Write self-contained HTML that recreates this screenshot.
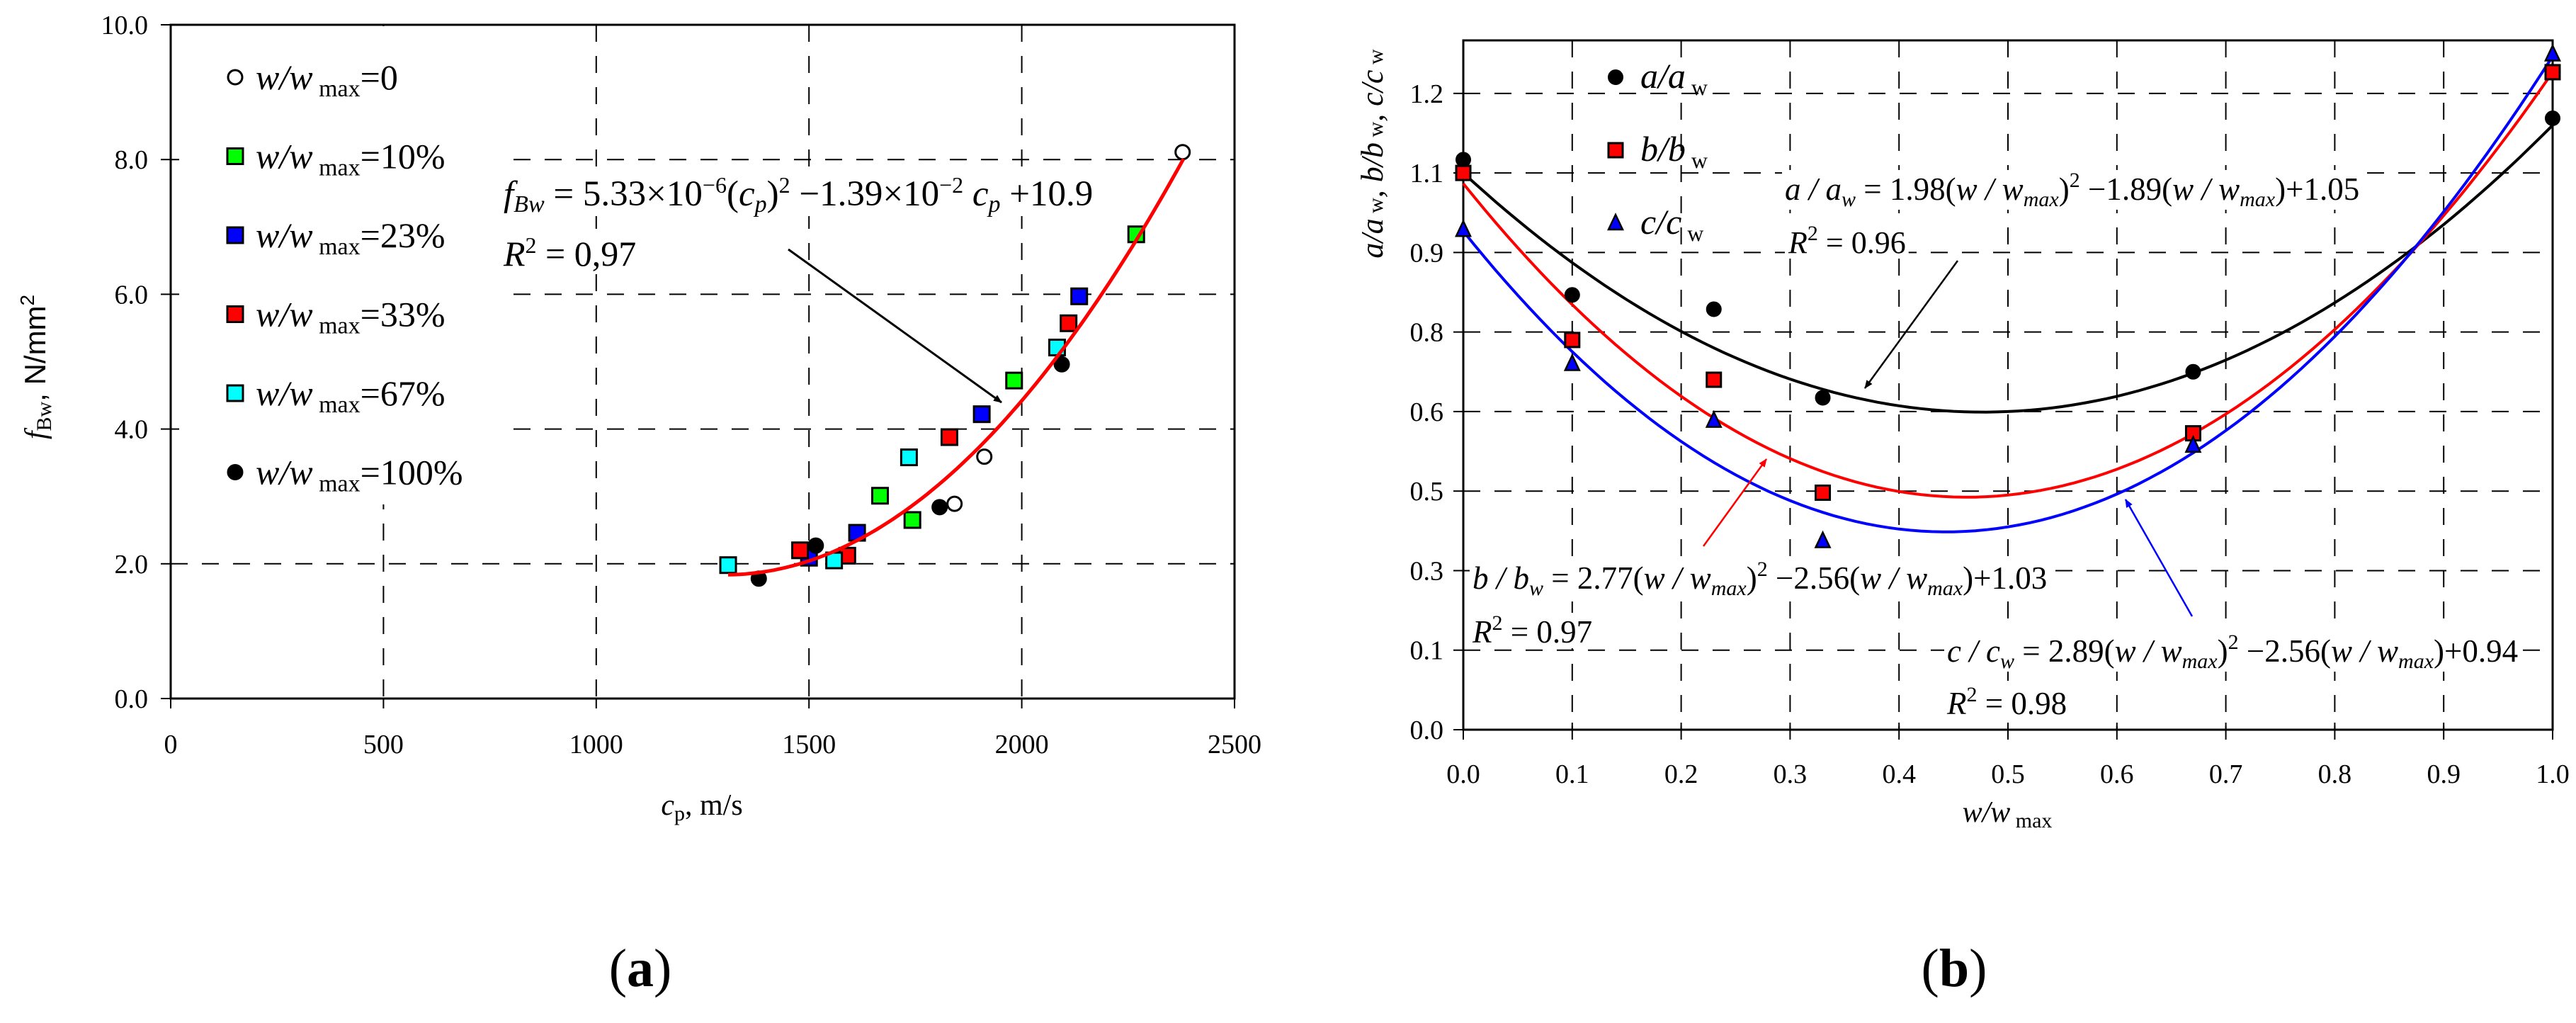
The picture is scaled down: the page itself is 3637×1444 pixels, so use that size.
<!DOCTYPE html>
<html><head><meta charset="utf-8"><style>
html,body{margin:0;padding:0;background:#fff;}
svg{display:block;font-family:"Liberation Serif",serif;}
</style></head><body>
<svg id="root" width="3637" height="1444" viewBox="0 0 3637 1444" xmlns="http://www.w3.org/2000/svg">
<defs>
<marker id="ah" markerWidth="12" markerHeight="10" refX="11" refY="5" orient="auto" markerUnits="userSpaceOnUse"><path d="M0,0 L12,5 L0,10 z" fill="#000"/></marker>
<marker id="ahr" markerWidth="12" markerHeight="10" refX="11" refY="5" orient="auto" markerUnits="userSpaceOnUse"><path d="M0,0 L12,5 L0,10 z" fill="#f00"/></marker>
<marker id="ahb" markerWidth="12" markerHeight="10" refX="11" refY="5" orient="auto" markerUnits="userSpaceOnUse"><path d="M0,0 L12,5 L0,10 z" fill="#00f"/></marker>
</defs>
<g id="chartA"></g>
<g id="chartB"></g>

<!-- chart A static text -->
<text x="991" y="1150" font-size="42" text-anchor="middle"><tspan font-style="italic">c</tspan><tspan font-size="30" dy="8">p</tspan><tspan dy="-8">, m/s</tspan></text>
<text transform="translate(64,518) rotate(-90)" font-size="42" text-anchor="middle"><tspan font-style="italic">f</tspan><tspan font-size="30" dy="8">Bw</tspan><tspan dy="-8" font-family="Liberation Sans">, N/mm</tspan><tspan font-size="28" dy="-16" font-family="Liberation Sans">2</tspan></text>
<text class="masked" x="711" y="290" font-size="51"><tspan font-style="italic">f</tspan><tspan font-style="italic" font-size="34" dy="9">Bw</tspan><tspan dy="-9"> = 5.33×10</tspan><tspan font-size="32" dy="-18">−6</tspan><tspan dy="18">(</tspan><tspan font-style="italic">c</tspan><tspan font-style="italic" font-size="34" dy="9">p</tspan><tspan dy="-9">)</tspan><tspan font-size="32" dy="-18">2</tspan><tspan dy="18"> −1.39×10</tspan><tspan font-size="32" dy="-18">−2</tspan><tspan dy="18" font-style="italic"> c</tspan><tspan font-style="italic" font-size="34" dy="9">p</tspan><tspan dy="-9"> +10.9</tspan></text>
<text class="masked" x="711" y="375" font-size="50"><tspan font-style="italic">R</tspan><tspan font-size="32" dy="-18">2</tspan><tspan dy="18"> = 0,97</tspan></text>
<line x1="1113" y1="352" x2="1414" y2="568" stroke="#000" stroke-width="3" marker-end="url(#ah)"/>
<text x="904" y="1392" font-size="76" text-anchor="middle">(<tspan font-weight="bold">a</tspan>)</text>

<!-- chart B static text -->
<text x="2834" y="1160" font-size="42" text-anchor="middle"><tspan font-style="italic">w/w</tspan><tspan font-size="30" dy="8"> max</tspan></text>
<text transform="translate(1952,217) rotate(-90)" font-size="44" text-anchor="middle" font-style="italic">a/a<tspan font-size="30" font-style="normal"> w</tspan>, b/b<tspan font-size="30" font-style="normal"> w</tspan>, c/c<tspan font-size="30" font-style="normal"> w</tspan></text>
<text class="masked" x="2520" y="282" font-size="45"><tspan font-style="italic">a / a</tspan><tspan font-style="italic" font-size="30" dy="9">w</tspan><tspan dy="-9"> = 1.98(</tspan><tspan font-style="italic">w / w</tspan><tspan font-style="italic" font-size="30" dy="9">max</tspan><tspan dy="-9">)</tspan><tspan font-size="30" dy="-18">2</tspan><tspan dy="18"> −1.89(</tspan><tspan font-style="italic">w / w</tspan><tspan font-style="italic" font-size="30" dy="9">max</tspan><tspan dy="-9">)+1.05</tspan></text>
<text class="masked" x="2525" y="357" font-size="44"><tspan font-style="italic">R</tspan><tspan font-size="30" dy="-18">2</tspan><tspan dy="18"> = 0.96</tspan></text>
<text class="masked" x="2079" y="831" font-size="45"><tspan font-style="italic">b / b</tspan><tspan font-style="italic" font-size="30" dy="9">w</tspan><tspan dy="-9"> = 2.77(</tspan><tspan font-style="italic">w / w</tspan><tspan font-style="italic" font-size="30" dy="9">max</tspan><tspan dy="-9">)</tspan><tspan font-size="30" dy="-18">2</tspan><tspan dy="18"> −2.56(</tspan><tspan font-style="italic">w / w</tspan><tspan font-style="italic" font-size="30" dy="9">max</tspan><tspan dy="-9">)+1.03</tspan></text>
<text class="masked" x="2079" y="907" font-size="45"><tspan font-style="italic">R</tspan><tspan font-size="30" dy="-18">2</tspan><tspan dy="18"> = 0.97</tspan></text>
<text class="masked" x="2749" y="934" font-size="45"><tspan font-style="italic">c / c</tspan><tspan font-style="italic" font-size="30" dy="9">w</tspan><tspan dy="-9"> = 2.89(</tspan><tspan font-style="italic">w / w</tspan><tspan font-style="italic" font-size="30" dy="9">max</tspan><tspan dy="-9">)</tspan><tspan font-size="30" dy="-18">2</tspan><tspan dy="18"> −2.56(</tspan><tspan font-style="italic">w / w</tspan><tspan font-style="italic" font-size="30" dy="9">max</tspan><tspan dy="-9">)+0.94</tspan></text>
<text class="masked" x="2749" y="1008" font-size="45"><tspan font-style="italic">R</tspan><tspan font-size="30" dy="-18">2</tspan><tspan dy="18"> = 0.98</tspan></text>
<line x1="2764" y1="368" x2="2633" y2="548" stroke="#000" stroke-width="2.5" marker-end="url(#ah)"/>
<line x1="2405" y1="771" x2="2494" y2="648" stroke="#f00" stroke-width="2.5" marker-end="url(#ahr)"/>
<line x1="3095" y1="870" x2="3001" y2="705" stroke="#00f" stroke-width="2.5" marker-end="url(#ahb)"/>
<text x="2759" y="1392" font-size="76" text-anchor="middle">(<tspan font-weight="bold">b</tspan>)</text>
</svg>
<script>
// ---------- Chart A data ----------
const aXTicks = [0, 500, 1000, 1500, 2000, 2500];
const aYTicks = [0, 2, 4, 6, 8, 10];
const aSeriesNames = ["0", "10%", "23%", "33%", "67%", "100%"];
const aOpenX = [2378, 1912, 1842];
const aOpenY = [8.11, 3.59, 2.89];
const aGreenX = [2269, 1982, 1667, 1743];
const aGreenY = [6.89, 4.72, 3.01, 2.65];
const aBlueX = [2135, 1906, 1613, 1500];
const aBlueY = [5.97, 4.22, 2.46, 2.09];
const aRedX = [2110, 1830, 1590, 1479];
const aRedY = [5.57, 3.88, 2.12, 2.20];
const aCyanX = [2083, 1735, 1559, 1310];
const aCyanY = [5.21, 3.58, 2.05, 1.98];
const aBlackX = [2094, 1807, 1516, 1382];
const aBlackY = [4.96, 2.84, 2.27, 1.78];
const aFitCoef = [5.33e-6, -1.39e-2, 10.9];
const aFitRange = [1310, 2380];

// ---------- Chart B data ----------
const bXTicks = [0, 0.1, 0.2, 0.3, 0.4, 0.5, 0.6, 0.7, 0.8, 0.9, 1.0];
const bYTicks = [0, 0.15, 0.3, 0.45, 0.6, 0.75, 0.9, 1.05, 1.2];
const bX = [0, 0.1, 0.23, 0.33, 0.67, 1.0];
const bA = [1.075, 0.82, 0.793, 0.626, 0.675, 1.153];
const bB = [1.05, 0.735, 0.66, 0.447, 0.559, 1.24];
const bC = [0.943, 0.69, 0.583, 0.356, 0.536, 1.274];
const bFitA = [1.98, -1.89, 1.05];
const bFitB = [2.77, -2.56, 1.03];
const bFitC = [2.89, -2.56, 0.94];

const NS = "http://www.w3.org/2000/svg";
function mk(parent, tag, attrs) {
  const e = document.createElementNS(NS, tag);
  for (const k in attrs) e.setAttribute(k, attrs[k]);
  parent.appendChild(e);
  return e;
}
function ts(parent, txt, attrs) {
  const t = mk(parent, 'tspan', attrs || {});
  t.textContent = txt;
  return t;
}
const DASH = '24,20';

// ===== Chart A =====
(function () {
  const g = document.getElementById('chartA');
  const L = 241, R = 1743, T = 35, B = 986;
  const xs = v => L + (v - 0) / 2500 * (R - L);
  const ys = v => B - v / 10 * (B - T);
  aXTicks.forEach(t => {
    if (t > 0 && t < 2500) {
      const l = mk(g, 'line', {x1: xs(t), x2: xs(t), y1: T, y2: B, stroke: '#000', 'stroke-width': 2, 'stroke-dasharray': DASH});
      
      
    }
    const tk = mk(g, 'line', {x1: xs(t), x2: xs(t), y1: B, y2: B + 14, stroke: '#000', 'stroke-width': 2});
    
    
    const tx = mk(g, 'text', {x: xs(t), y: 1063, 'font-size': 38, 'text-anchor': 'middle'});
    tx.textContent = String(t);
    
    
  });
  aYTicks.forEach(t => {
    if (t > 0 && t < 10) {
      const l = mk(g, 'line', {x1: L, x2: R, y1: ys(t), y2: ys(t), stroke: '#000', 'stroke-width': 2, 'stroke-dasharray': DASH});
      
      
    }
    const tk = mk(g, 'line', {x1: L - 14, x2: L, y1: ys(t), y2: ys(t), stroke: '#000', 'stroke-width': 2});
    
    
    const tx = mk(g, 'text', {x: L - 32, y: ys(t) + 13, 'font-size': 38, 'text-anchor': 'end'});
    tx.textContent = t.toFixed(1);
    
    
  });
  const mask = mk(g, 'rect', {x: L + 12, y: T + 2, width: 466, height: 675, fill: '#fff'});
  
  
  const fr = mk(g, 'rect', {x: L, y: T, width: R - L, height: B - T, fill: 'none', stroke: '#000', 'stroke-width': 3});
  
  

  function marker(parent, type, color, cx, cy) {
    if (type === 'circle') return mk(parent, 'circle', {cx: cx, cy: cy, r: 10, fill: color, stroke: '#000', 'stroke-width': 3});
    return mk(parent, 'rect', {x: cx - 11, y: cy - 11, width: 22, height: 22, fill: color, stroke: '#000', 'stroke-width': 3});
  }
  const series = [
    {x: aOpenX, y: aOpenY, t: 'circle', c: '#fff'},
    {x: aGreenX, y: aGreenY, t: 'square', c: '#00ff00'},
    {x: aBlueX, y: aBlueY, t: 'square', c: '#0000ff'},
    {x: aRedX, y: aRedY, t: 'square', c: '#ff0000'},
    {x: aCyanX, y: aCyanY, t: 'square', c: '#00ffff'},
    {x: aBlackX, y: aBlackY, t: 'circle', c: '#000'}
  ];
  let d = '';
  for (let i = 0; i <= 80; i++) {
    const v = aFitRange[0] + (aFitRange[1] - aFitRange[0]) * i / 80;
    const f = aFitCoef[0] * v * v + aFitCoef[1] * v + aFitCoef[2];
    d += (i ? 'L' : 'M') + xs(v).toFixed(1) + ',' + ys(f).toFixed(1);
  }
  series.forEach((s, si) => {
    s.x.forEach((xv, i) => {
      const m = marker(g, s.t, s.c, xs(xv), ys(s.y[i]));
      
      
    });
  });
  const fit = mk(g, 'path', {d: d, fill: 'none', stroke: '#ff0000', 'stroke-width': 5});
  
  
  series.forEach((s, si) => {
    const ly = 109 + si * 111.5;
    const m = marker(g, s.t, s.c, 332, ly);
    
    
    const tx = mk(g, 'text', {x: 361, y: ly + 17, 'font-size': 50});
    
    
    ts(tx, 'w/w', {'font-style': 'italic'});
    ts(tx, ' max', {'font-size': 34, dy: 10});
    ts(tx, '=' + aSeriesNames[si], {dy: -10});
  });
})();

// ===== Chart B =====
(function () {
  const g = document.getElementById('chartB');
  const L = 2066, R = 3604, T = 57, B = 1030;
  const xs = v => L + v * (R - L);
  const ys = v => B - v / 1.3 * (B - T);
  bXTicks.forEach(t => {
    if (t > 0 && t < 1) {
      const l = mk(g, 'line', {x1: xs(t), x2: xs(t), y1: T, y2: B, stroke: '#000', 'stroke-width': 2, 'stroke-dasharray': DASH});
      
      
    }
    const tk = mk(g, 'line', {x1: xs(t), x2: xs(t), y1: B - 10, y2: B + 14, stroke: '#000', 'stroke-width': 2});
    
    
    const tx = mk(g, 'text', {x: xs(t), y: 1105, 'font-size': 38, 'text-anchor': 'middle'});
    tx.textContent = t.toFixed(1);
    
    
  });
  bYTicks.forEach(t => {
    if (t > 0) {
      const l = mk(g, 'line', {x1: L, x2: R, y1: ys(t), y2: ys(t), stroke: '#000', 'stroke-width': 2, 'stroke-dasharray': DASH});
      
      
    }
    const tk = mk(g, 'line', {x1: L - 14, x2: L, y1: ys(t), y2: ys(t), stroke: '#000', 'stroke-width': 2});
    
    
    const tx = mk(g, 'text', {x: L - 28, y: ys(t) + 13, 'font-size': 38, 'text-anchor': 'end'});
    tx.textContent = t.toFixed(1);
    
    
  });
  const fr = mk(g, 'rect', {x: L, y: T, width: R - L, height: B - T, fill: 'none', stroke: '#000', 'stroke-width': 3});
  
  

  function curve(coef, color, name) {
    let d = '';
    for (let i = 0; i <= 100; i++) {
      const v = i / 100;
      const f = coef[0] * v * v + coef[1] * v + coef[2];
      d += (i ? 'L' : 'M') + xs(v).toFixed(1) + ',' + ys(f).toFixed(1);
    }
    const p = mk(g, 'path', {d: d, fill: 'none', stroke: color, 'stroke-width': 4});
    
    
  }
  function mark(type, color, cx, cy) {
    if (type === 'circle') return mk(g, 'circle', {cx: cx, cy: cy, r: 10, fill: '#000', stroke: '#000', 'stroke-width': 2});
    if (type === 'square') return mk(g, 'rect', {x: cx - 10, y: cy - 10, width: 20, height: 20, fill: color, stroke: '#000', 'stroke-width': 3});
    return mk(g, 'path', {d: 'M' + cx + ',' + (cy - 12) + ' L' + (cx + 10) + ',' + (cy + 9) + ' L' + (cx - 10) + ',' + (cy + 9) + ' Z', fill: color, stroke: '#000', 'stroke-width': 2.5});
  }
  curve(bFitA, '#000', 'fit-curve-a-aw');
  curve(bFitB, '#ff0000', 'fit-curve-b-bw');
  curve(bFitC, '#0000ff', 'fit-curve-c-cw');
  const ser = [
    {v: bA, t: 'circle', c: '#000', n: 'point-a-aw'},
    {v: bB, t: 'square', c: '#ff0000', n: 'point-b-bw'},
    {v: bC, t: 'triangle', c: '#0000ff', n: 'point-c-cw'}
  ];
  ser.forEach(s => {
    bX.forEach((xv, i) => {
      const m = mark(s.t, s.c, xs(xv), ys(s.v[i]));
      
      
    });
  });
  const labs = ['a/a', 'b/b', 'c/c'];
  ser.forEach((s, i) => {
    const ly = 109 + i * 103;
    const m = mark(s.t, s.c, 2281, ly);
    
    
    const tx = mk(g, 'text', {x: 2316, y: ly + 15, 'font-size': 50});
    
    
    ts(tx, labs[i], {'font-style': 'italic'});
    ts(tx, ' w', {'font-size': 32, dy: 10});
  });
})();

// white boxes behind equation labels
document.querySelectorAll('text.masked').forEach(t => {
  const bb = t.getBBox();
  const r = document.createElementNS(NS, 'rect');
  r.setAttribute('x', bb.x - 4);
  r.setAttribute('y', bb.y + 2);
  r.setAttribute('width', bb.width + 8);
  r.setAttribute('height', bb.height - 4);
  r.setAttribute('fill', '#fff');
  
  
  t.parentNode.insertBefore(r, t);
});
</script>
</body></html>
